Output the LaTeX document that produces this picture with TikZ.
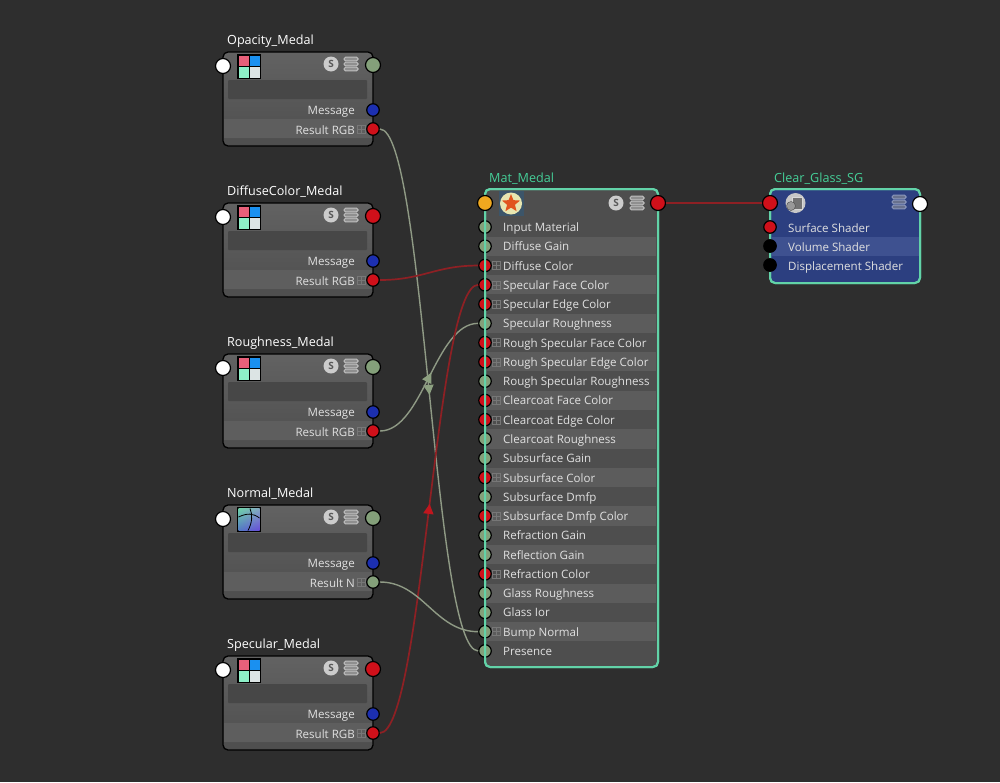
\documentclass[tikz,border=0pt]{standalone}
\usepackage{fontspec}
\setmainfont{Open Sans}
\usetikzlibrary{arrows.meta,decorations.markings,shapes.geometric}
\definecolor{bg}{HTML}{2E2E2E}
\definecolor{pgreen}{HTML}{84A07A}
\definecolor{pred}{HTML}{D0101A}
\definecolor{pblue}{HTML}{1C2FB0}
\definecolor{porange}{HTML}{EFA81F}
\definecolor{teal}{HTML}{62D3A8}
\definecolor{ttl}{HTML}{45CF98}
\definecolor{wiregreen}{HTML}{8F9A85}
\definecolor{wirered}{HTML}{8E2024}
\definecolor{tipgreen}{HTML}{8DA080}
\definecolor{tipred}{HTML}{C0161E}
\definecolor{rowa}{HTML}{4E4E4E}
\definecolor{rowb}{HTML}{5C5C5C}
\definecolor{sga}{HTML}{2C3F80}
\definecolor{sgb}{HTML}{3E5190}
\definecolor{bodytop}{HTML}{626262}
\definecolor{bodybot}{HTML}{4E4E4E}
\definecolor{bandc}{HTML}{5E5E5E}
\definecolor{slotc}{HTML}{474747}
\definecolor{icona}{HTML}{E8607A}
\definecolor{iconb}{HTML}{1A90F0}
\definecolor{iconc}{HTML}{8EF0C8}
\definecolor{icond}{HTML}{DCE4E4}
\definecolor{nora}{HTML}{6ED2AA}
\definecolor{norb}{HTML}{A070E0}
\definecolor{norc}{HTML}{3C30D8}
\definecolor{starbg}{HTML}{3C5569}
\definecolor{starc}{HTML}{E1551E}
\definecolor{stard}{HTML}{E8E6B0}
\definecolor{plusc}{HTML}{777777}
\tikzset{
  x=1pt,y=-1pt,
  port/.style={circle,draw=black,line width=1.2pt,inner sep=0pt,minimum size=#1},
  port/.default=12.5pt,
  bigport/.style={port=15pt},
  medalbody/.style={draw=black,line width=1.3pt,rounded corners=5pt,top color=bodytop,bottom color=bodybot,minimum width=150pt,minimum height=94pt,inner sep=0pt},
  titletext/.style={anchor=base west,inner sep=0pt,text=white,font=\fontsize{12.6}{15}\selectfont},
  rowtext/.style={inner sep=0pt,text=white!88!black,font=\fontsize{11.55}{14}\selectfont},
  wire/.style={line width=1.4pt,postaction={decorate},decoration={markings,mark=at position 0.5 with {\pgftransformxshift{5pt}\arrow[color=#1]{Triangle[length=10pt,width=10pt]}}}},
  plainwire/.style={line width=1.6pt},
  stackbar/.style={draw=#1,line width=1pt,rounded corners=1.5pt},
  sbadge/.style={circle,fill=black!20,inner sep=0pt,minimum size=15pt,text=black!65,font=\bfseries\fontsize{10}{10}\selectfont},
  plusbox/.style={draw=plusc,line width=.4pt,minimum size=8pt,inner sep=0pt,path picture={\draw[plusc,line width=.4pt] (path picture bounding box.north) -- (path picture bounding box.south) (path picture bounding box.west) -- (path picture bounding box.east);}}
}
\newcommand{\stackicon}[3]{%
  \foreach \dy in {-5,0,5}{\draw[stackbar=#3,fill=#3!75!black] (#1-7,#2+\dy-1.8) rectangle (#1+7,#2+\dy+1.8);}}
\newcommand{\gridicon}[2]{%
  \fill[black] (#1,#2) rectangle ++(24,25);
  \fill[icona] (#1+1.5,#2+1.5) rectangle ++(10,10.5);
  \fill[iconb] (#1+12.5,#2+1.5) rectangle ++(10,10.5);
  \fill[iconc] (#1+1.5,#2+13) rectangle ++(10,10.5);
  \fill[icond] (#1+12.5,#2+13) rectangle ++(10,10.5);}
\newcommand{\normalicon}[2]{%
  \fill[black] (#1,#2) rectangle ++(24,25);
  \shade[top color=nora,bottom color=norc] (#1+1.5,#2+1.5) rectangle ++(21,22);
  \shade[left color=nora,right color=norb,opacity=.45] (#1+1.5,#2+1.5) rectangle ++(21,22);
  \draw[black,line width=.8pt] (#1+1.5,#2+10) .. controls (#1+10,#2+6) and (#1+16,#2+6) .. (#1+22.5,#2+11)
    (#1+13,#2+1.5) .. controls (#1+16,#2+8) and (#1+15,#2+16) .. (#1+11,#2+23.5);}
% name, title, top y, output colour, result label, result colour, icon command
\newcommand{\medal}[7]{%
  \node[titletext] (#1title) at (227,#3-8) {#2};
  \node[medalbody] (#1body) at (298,#3+47) {};
  \fill[bandc] (224,#3+67) rectangle (372,#3+86);
  \fill[slotc,rounded corners=1pt] (228,#3+28) rectangle (367,#3+47);
  #7{237}{#3+2}
  \node[sbadge] (#1s) at (331,#3+12) {S};
  \stackicon{351}{#3+12}{white!75!black}
  \node[port,bigport,fill=white] (#1in) at (223,#3+14) {};
  \node[port,bigport,fill=#4] (#1out) at (373,#3+13) {};
  \node[rowtext,anchor=base east] (#1msg) at (355,#3+62.5) {Message};
  \node[rowtext,anchor=base east] (#1lab) at (355,#3+82) {#5};
  \node[plusbox] (#1plus) at (361.5,#3+77) {};
  \node[port,fill=pblue] (#1m) at (373,#3+58) {};
  \node[port,fill=#6] (#1res) at (373,#3+77) {};
}
\begin{document}
\begin{tikzpicture}
\useasboundingbox (0,0) rectangle (1000,782);
\fill[bg] (0,0) rectangle (1000,782);

\medal{op}{Opacity\_Medal}{52}{pgreen}{Result RGB}{pred}{\gridicon}
\medal{di}{DiffuseColor\_Medal}{203}{pred}{Result RGB}{pred}{\gridicon}
\medal{ro}{Roughness\_Medal}{354}{pgreen}{Result RGB}{pred}{\gridicon}
\medal{no}{Normal\_Medal}{505}{pgreen}{Result N}{pgreen}{\normalicon}
\medal{sp}{Specular\_Medal}{656}{pred}{Result RGB}{pred}{\gridicon}

% Mat_Medal
\node[titletext,text=ttl] (mattitle) at (489,182) {Mat\_Medal};
\node[draw=teal,line width=2pt,rounded corners=5pt,fill=rowa,minimum width=173pt,minimum height=478pt,inner sep=0pt] (matbody) at (571.5,428) {};
\foreach \lab/\col/\pl [count=\i] in {
  Input Material/pgreen/0,Diffuse Gain/pgreen/0,Diffuse Color/pred/1,Specular Face Color/pred/1,
  Specular Edge Color/pred/1,Specular Roughness/pgreen/0,Rough Specular Face Color/pred/1,
  Rough Specular Edge Color/pred/1,Rough Specular Roughness/pgreen/0,Clearcoat Face Color/pred/1,
  Clearcoat Edge Color/pred/1,Clearcoat Roughness/pgreen/0,Subsurface Gain/pgreen/0,
  Subsurface Color/pred/1,Subsurface Dmfp/pgreen/0,Subsurface Dmfp Color/pred/1,Refraction Gain/pgreen/0,
  Reflection Gain/pgreen/0,Refraction Color/pred/1,Glass Roughness/pgreen/0,Glass Ior/pgreen/0,
  Bump Normal/pgreen/1,Presence/pgreen/0}{
  \pgfmathsetmacro{\yy}{227+(\i-1)*19.27}
  \pgfmathtruncatemacro{\odd}{mod(\i,2)}
  \ifnum\odd=1 \def\rc{rowa}\else \def\rc{rowb}\fi
  \fill[\rc] (487,\yy-9.6) rectangle (656,\yy+9.6);
  \node[rowtext,anchor=base west] (mr\i) at (503,\yy+4.5) {\lab};
  \ifnum\pl=1 \node[plusbox] (mp\i) at (496.5,\yy) {};\fi
  \node[port,fill=\col] (m\i) at (485,\yy) {};
}
\draw[teal,line width=2pt,rounded corners=5pt] (485,189) rectangle (658,667);
\node[inner sep=0pt,minimum width=25pt,minimum height=25pt,fill=starbg] (maticon) at (511,203.5) {};
\fill[stard] (511,203.5) circle (11);
\node[star,star points=5,star point ratio=2.3,fill=starc,inner sep=0pt,minimum size=19pt] (matstar) at (511,203.5) {};
\node[sbadge] (mats) at (616,203) {S};
\stackicon{637}{203}{white!75!black}
\node[port,bigport,fill=porange] (matin) at (485,203) {};
\node[port,bigport,fill=pred] (matout) at (658,203) {};

% Clear_Glass_SG
\node[titletext,text=ttl] (sgtitle) at (774,182) {Clear\_Glass\_SG};
\node[draw=teal,line width=2pt,rounded corners=5pt,fill=sga,minimum width=150pt,minimum height=94pt,inner sep=0pt] (sgbody) at (845,236) {};
\fill[sgb] (772,237) rectangle (919,256);
\draw[teal,line width=2pt,rounded corners=5pt] (770,189) rectangle (920,283);
\node[circle,fill=black!22,inner sep=0pt,minimum size=20pt] (sgicon) at (795.5,203) {};
\fill[black!55,draw=black!15] (792,197) rectangle (802,209);
\fill[black!40,draw=black!70] (791,206) circle (4.5);
\stackicon{899}{202}{sgb!60!white}
\node[port,bigport,fill=pred] (sgin) at (770,203) {};
\node[port,bigport,fill=white] (sgout) at (920,204) {};
\node[rowtext,anchor=base west] (sg1t) at (788,232) {Surface Shader};
\node[rowtext,anchor=base west] (sg2t) at (788,251) {Volume Shader};
\node[rowtext,anchor=base west] (sg3t) at (788,270) {Displacement Shader};
\node[port,fill=pred] (sg1) at (770,227) {};
\node[port,fill=black] (sg2) at (770,246) {};
\node[port,fill=black] (sg3) at (770,265) {};

% connectors
\draw[wiregreen,wire=tipgreen] (opres) .. controls +(52,0) and +(-52,0) .. (m23);
\draw[wiregreen,wire=tipgreen] (rores) .. controls +(50,0) and +(-50,0) .. (m6);
\draw[wirered,wire=tipred,line width=1.7pt] (spres) .. controls +(50,0) and +(-50,0) .. (m4);
\draw[wirered,plainwire,line width=1.7pt] (dires) .. controls +(50,0) and +(-50,0) .. (m3);
\draw[wiregreen,plainwire,line width=1.4pt] (nores) .. controls +(50,0) and +(-50,0) .. (m22);
\draw[wirered,plainwire,line width=1.7pt] (matout) -- (sgin);
\end{tikzpicture}
\end{document}
